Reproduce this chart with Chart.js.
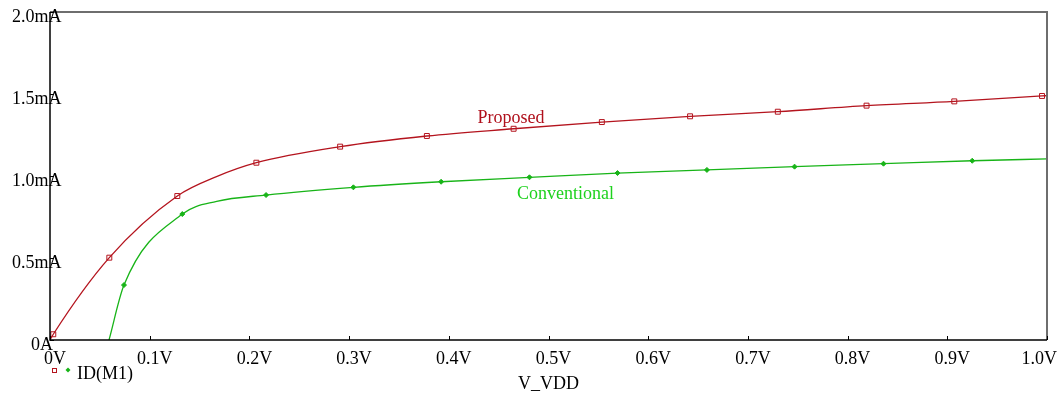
<!DOCTYPE html>
<html>
<head>
<meta charset="utf-8">
<script src="https://cdn.jsdelivr.net/npm/chart.js@4"></script>
<style>
html,body{margin:0;padding:0;background:#fff;}
#wrap{width:1063px;height:403px;position:relative;}
</style>
</head>
<body>
<div id="wrap"><canvas id="c" width="1063" height="403"></canvas></div>
<script>
// Data (V_VDD in volts, ID in mA)
const xTicks = [0, 0.1, 0.2, 0.3, 0.4, 0.5, 0.6, 0.7, 0.8, 0.9, 1.0];
const xTickLabels = ['0V','0.1V','0.2V','0.3V','0.4V','0.5V','0.6V','0.7V','0.8V','0.9V','1.0V'];
const yTicks = [0, 0.5, 1.0, 1.5, 2.0];
const yTickLabels = ['0A','0.5mA','1.0mA','1.5mA','2.0mA'];

// Proposed: marker readings
const propMarkV = [0.0033, 0.0595, 0.1277, 0.207, 0.291, 0.378, 0.465, 0.5535, 0.642, 0.730, 0.819, 0.907, 0.995];
const propMarkI = [0.035, 0.502, 0.878, 1.081, 1.179, 1.244, 1.288, 1.329, 1.364, 1.392, 1.429, 1.455, 1.488];
// Proposed: extra curve readings (no marker)
const propCurveV = [0, 0.167, 1.0];
const propCurveI = [0, 0.996, 1.490];

// Conventional: marker readings
const convMarkV = [0.0742, 0.1327, 0.2167, 0.3043, 0.3923, 0.4809, 0.5692, 0.6589, 0.7468, 0.836, 0.925];
const convMarkI = [0.335, 0.768, 0.884, 0.931, 0.965, 0.992, 1.018, 1.037, 1.057, 1.075, 1.093];
// Conventional: extra curve readings (no marker)
const convCurveV = [0.0592, 0.1672, 1.0];
const convCurveI = [0, 0.845, 1.104];

const curveLabels = [
  {text:'Proposed', v:0.4287, i:1.325, color:'#b0101c'},
  {text:'Conventional', v:0.4683, i:0.858, color:'#1ed21e'}
];
const legendText = 'ID(M1)';
const xTitle = 'V_VDD';

const RED = '#b4141e';
const GREEN = '#18b418';
const FONT = '18px "Liberation Serif", "Times New Roman", serif';

function pts(v, i){ return v.map((x,k)=>({x:x, y:i[k]})); }
function merged(v1,i1,v2,i2){ return pts(v1,i1).concat(pts(v2,i2)).sort((a,b)=>a.x-b.x); }

const decor = {
  id:'decor',
  afterDatasetsDraw(chart){
    const ctx = chart.ctx, a = chart.chartArea;
    const xs = chart.scales.x, ys = chart.scales.y;
    ctx.save();
    // top & right frame (gray)
    ctx.strokeStyle = '#6e6e6e'; ctx.lineWidth = 2;
    ctx.beginPath(); ctx.moveTo(a.left, a.top); ctx.lineTo(a.right, a.top); ctx.lineTo(a.right, a.bottom); ctx.stroke();
    // axes (black)
    ctx.strokeStyle = '#000'; ctx.lineWidth = 1.5;
    ctx.beginPath(); ctx.moveTo(a.left, a.top); ctx.lineTo(a.left, a.bottom); ctx.lineTo(a.right, a.bottom); ctx.stroke();
    // x ticks
    ctx.lineWidth = 1;
    xTicks.forEach(v=>{
      const px = Math.round(xs.getPixelForValue(v))+0.5;
      ctx.beginPath(); ctx.moveTo(px, a.bottom); ctx.lineTo(px, a.bottom-4); ctx.stroke();
    });
    yTicks.forEach(v=>{
      const py = Math.round(ys.getPixelForValue(v))+0.5;
      ctx.beginPath(); ctx.moveTo(a.left, py); ctx.lineTo(a.left+4, py); ctx.stroke();
    });
    // labels
    ctx.font = FONT; ctx.fillStyle = '#000'; ctx.textBaseline = 'middle';
    xTicks.forEach((v,k)=>{
      const px = xs.getPixelForValue(v);
      if (k === xTicks.length-1){ ctx.textAlign='right'; ctx.fillText(xTickLabels[k], px+10, a.bottom+19); }
      else { ctx.textAlign='center'; ctx.fillText(xTickLabels[k], px+5, a.bottom+19); }
    });
    ctx.textAlign = 'left';
    yTicks.forEach((v,k)=>{
      const py = ys.getPixelForValue(v);
      ctx.fillText(yTickLabels[k], v===0 ? a.left-19 : a.left-38, py+5);
    });
    // x title
    ctx.textAlign = 'center';
    ctx.fillText(xTitle, (a.left+a.right)/2, a.bottom+44);
    // legend
    ctx.strokeStyle = RED; ctx.lineWidth = 1;
    ctx.strokeRect(52.5, 368.5, 4, 4);
    ctx.fillStyle = GREEN;
    ctx.beginPath(); ctx.moveTo(68,367.5); ctx.lineTo(70.5,370); ctx.lineTo(68,372.5); ctx.lineTo(65.5,370); ctx.closePath(); ctx.fill();
    ctx.fillStyle = '#000'; ctx.textAlign = 'left';
    ctx.fillText(legendText, 77, 374);
    // curve labels
    ctx.textBaseline = 'alphabetic';
    curveLabels.forEach(l=>{
      ctx.fillStyle = l.color;
      ctx.fillText(l.text, xs.getPixelForValue(l.v), ys.getPixelForValue(l.i));
    });
    ctx.restore();
  }
};

new Chart(document.getElementById('c'), {
  type:'scatter',
  data:{
    datasets:[
      {data: merged(propMarkV,propMarkI,propCurveV,propCurveI), showLine:true, borderColor:RED, borderWidth:1.3,
       pointRadius:0, cubicInterpolationMode:'monotone', fill:false},
      {data: merged(convMarkV,convMarkI,convCurveV,convCurveI), showLine:true, borderColor:GREEN, borderWidth:1.3,
       pointRadius:0, cubicInterpolationMode:'monotone', fill:false},
      {data: pts(propMarkV,propMarkI), showLine:false, pointStyle:'rect', pointRadius:3.5,
       borderColor:RED, backgroundColor:'rgba(255,255,255,0)', pointBorderWidth:1},
      {data: pts(convMarkV,convMarkI), showLine:false, pointStyle:'rectRot', pointRadius:2.5,
       borderColor:GREEN, backgroundColor:GREEN, pointBorderWidth:1}
    ]
  },
  options:{
    responsive:false, animation:false, devicePixelRatio:1,
    layout:{padding:{left:50, top:12, right:16, bottom:63}},
    plugins:{legend:{display:false}, tooltip:{enabled:false}, title:{display:false}},
    scales:{
      x:{type:'linear', min:0, max:1, display:false},
      y:{type:'linear', min:0, max:2, display:false}
    }
  },
  plugins:[decor]
});
</script>
</body>
</html>
